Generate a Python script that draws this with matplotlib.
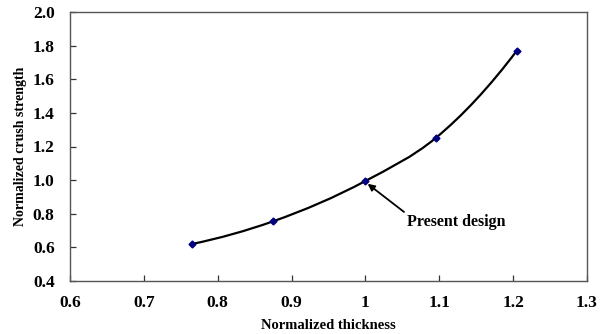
import matplotlib
matplotlib.use("Agg")
import matplotlib.pyplot as plt
from matplotlib.path import Path
from matplotlib.patches import PathPatch
import numpy as np

thickness = [0.765, 0.875, 1.0, 1.095, 1.205]
strength = [0.62, 0.755, 0.995, 1.25, 1.77]
xticks = [0.6, 0.7, 0.8, 0.9, 1.0, 1.1, 1.2, 1.3]
xticklabels = ["0.6", "0.7", "0.8", "0.9", "1", "1.1", "1.2", "1.3"]
yticks = [0.4, 0.6, 0.8, 1.0, 1.2, 1.4, 1.6, 1.8, 2.0]
yticklabels = ["0.4", "0.6", "0.8", "1.0", "1.2", "1.4", "1.6", "1.8", "2.0"]

plt.rcParams['font.family'] = ['Liberation Serif', 'DejaVu Serif']
plt.rcParams['font.weight'] = 'bold'

fig = plt.figure(figsize=(6.05, 3.34), dpi=100)
ax = fig.add_axes([70/605, 1-281/334, (587-70)/605, (281-12)/334])

# smooth line through the points (Bessel/parabolic slopes, cubic Beziers)
x = np.array(thickness); y = np.array(strength)
n = len(x)
h = np.diff(x)
d = np.diff(y) / h
m = np.zeros(n)
for i in range(1, n-1):
    m[i] = (h[i]*d[i-1] + h[i-1]*d[i]) / (h[i-1] + h[i])
m[0] = 2*d[0] - m[1]
m[-1] = 2*d[-1] - m[-2]
verts = [(x[0], y[0])]
codes = [Path.MOVETO]
for i in range(n-1):
    verts += [(x[i]+h[i]/3, y[i]+m[i]*h[i]/3),
              (x[i+1]-h[i]/3, y[i+1]-m[i+1]*h[i]/3),
              (x[i+1], y[i+1])]
    codes += [Path.CURVE4]*3
ax.add_patch(PathPatch(Path(verts, codes), fill=False, lw=1.6, color='black', zorder=2))
ax.plot(thickness, strength, linestyle='none', marker='D', ms=3.5, color='#000080', zorder=3)

ax.annotate("Present design", xy=(1.003, 0.978), xytext=(1.056, 0.75),
            fontsize=11.5, fontweight='bold', va='center', ha='left',
            arrowprops=dict(arrowstyle='-|>', color='black', lw=1.3,
                            shrinkA=0, shrinkB=0, mutation_scale=10,
                            relpos=(-0.02, 1.1)))

ax.set_xlim(0.6, 1.3)
ax.set_ylim(0.4, 2.0)
ax.set_xticks(xticks)
ax.set_xticklabels(xticklabels)
ax.set_yticks(yticks)
ax.set_yticklabels(yticklabels)
ax.tick_params(direction='in', length=4, labelsize=12.5, color='#333333', width=0.9)
ax.tick_params(axis='x', pad=10)
ax.tick_params(axis='y', pad=11)
for s in ax.spines.values():
    s.set_color('#555555')
    s.set_linewidth(1.0)
ax.set_xlabel("Normalized thickness", fontsize=10.5, fontweight='bold', labelpad=6)
ax.set_ylabel("Normalized crush strength", fontsize=10, fontweight='bold', labelpad=4)

fig.savefig("out.png", dpi=100)
